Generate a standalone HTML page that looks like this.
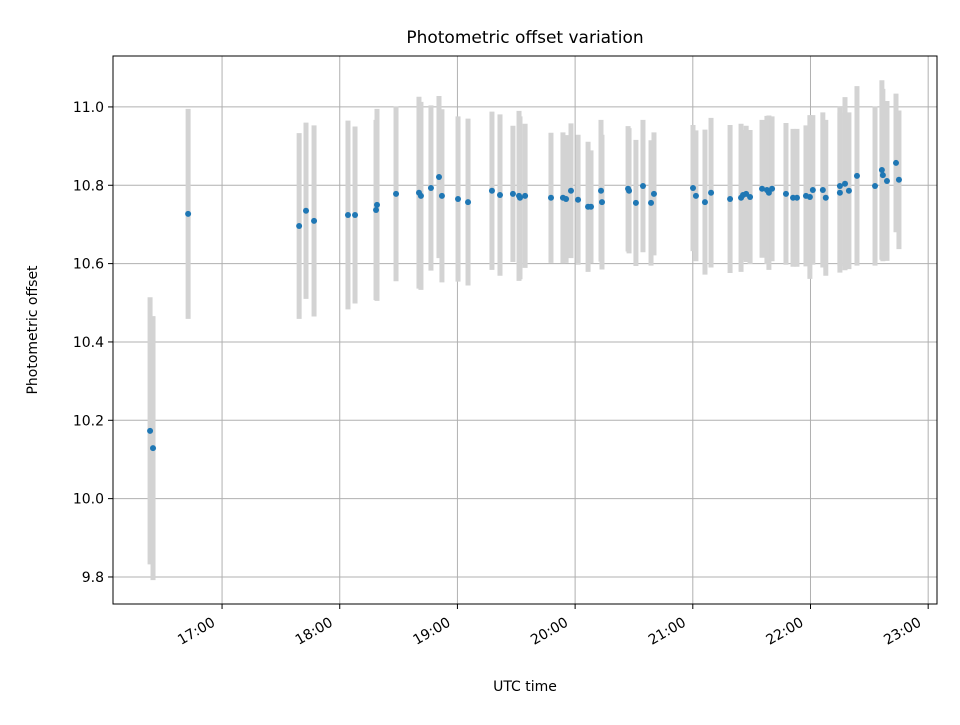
<!DOCTYPE html>
<html><head><meta charset="utf-8"><style>
body{margin:0;background:#fff;font-family:"Liberation Sans","DejaVu Sans",sans-serif}
svg text{font-family:"DejaVu Sans","Liberation Sans",sans-serif;fill:#000}
</style></head><body>
<svg id="chart" width="960" height="720" xmlns="http://www.w3.org/2000/svg"></svg>
<script>
// minutes after 17:00 UTC
const times=[-36.7,-35.2,-17.3,39.3,42.8,46.9,64.2,67.8,78.5,79.0,88.7,100.4,101.4,106.5,110.6,112.1,120.3,125.4,137.6,141.7,148.3,151.4,151.9,154.5,167.7,173.8,175.4,177.9,181.5,186.6,188.1,193.2,193.7,207,207.5,211,214.6,218.7,220.2,240.1,241.6,246.2,249.3,259,264.6,265.6,267.2,269.2,275.3,277.8,278.8,280.4,287.5,291.1,293.1,297.7,299.7,301.2,306.3,307.8,315,315,317.6,319.6,323.7,332.9,336.4,336.9,339,343.6,345.1];
const offsets=[10.173,10.129,10.727,10.696,10.735,10.709,10.724,10.724,10.737,10.750,10.778,10.781,10.773,10.793,10.821,10.773,10.765,10.757,10.786,10.775,10.778,10.773,10.768,10.773,10.768,10.768,10.765,10.786,10.763,10.745,10.745,10.786,10.757,10.791,10.786,10.755,10.798,10.755,10.778,10.793,10.773,10.757,10.781,10.765,10.768,10.775,10.778,10.770,10.791,10.788,10.781,10.791,10.778,10.768,10.768,10.773,10.770,10.788,10.788,10.768,10.781,10.798,10.804,10.786,10.824,10.798,10.839,10.826,10.811,10.857,10.814];
const errors=[0.341,0.337,0.268,0.237,0.225,0.244,0.241,0.226,0.23,0.245,0.223,0.245,0.24,0.211,0.207,0.221,0.211,0.213,0.202,0.206,0.174,0.217,0.208,0.184,0.166,0.167,0.163,0.172,0.166,0.166,0.144,0.181,0.172,0.16,0.16,0.161,0.169,0.16,0.157,0.161,0.167,0.185,0.191,0.189,0.189,0.166,0.174,0.171,0.176,0.189,0.197,0.185,0.181,0.176,0.176,0.18,0.209,0.191,0.198,0.199,0.204,0.204,0.221,0.2,0.229,0.203,0.229,0.22,0.204,0.177,0.177];
const yTicks=[9.8,10.0,10.2,10.4,10.6,10.8,11.0];
const xTickMins=[0,60,120,180,240,300,360];
const xTickLabels=["17:00","18:00","19:00","20:00","21:00","22:00","23:00"];
const L=113,R=937,T=56,B=604,x0=-55.6,x1=364.5,y0=9.731,y1=11.130;
const sx=v=>L+(v-x0)/(x1-x0)*(R-L);
const sy=v=>B-(v-y0)/(y1-y0)*(B-T);
const svg=document.getElementById('chart');const NS='http://www.w3.org/2000/svg';
function mk(t,a,p){const e=document.createElementNS(NS,t);for(const k in a)e.setAttribute(k,a[k]);(p||svg).appendChild(e);return e;}
const grid=mk('g',{});
xTickMins.forEach((m,i)=>{const x=sx(m);
 mk('line',{x1:x,x2:x,y1:T,y2:B,stroke:'#b0b0b0','stroke-width':1},grid);
 mk('line',{x1:x,x2:x,y1:B,y2:B+5,stroke:'#000','stroke-width':1});
 const ax=x-6,ay=B+21;
 const tx=mk('text',{x:ax,y:ay,'font-size':14,'text-anchor':'end',transform:`rotate(-30 ${ax} ${ay})`});
 tx.textContent=xTickLabels[i];
 
 });
yTicks.forEach(v=>{const y=sy(v);
 mk('line',{x1:L,x2:R,y1:y,y2:y,stroke:'#b0b0b0','stroke-width':1},grid);
 mk('line',{x1:L-5,x2:L,y1:y,y2:y,stroke:'#000','stroke-width':1});
 const tx=mk('text',{x:L-9,y:y+5,'font-size':14,'text-anchor':'end'});
 tx.textContent=v.toFixed(1);
 
 });
const eb=mk('g',{});
times.forEach((m,i)=>{const x=sx(m);
 const l=mk('line',{x1:x,x2:x,y1:sy(offsets[i]+errors[i]),y2:sy(offsets[i]-errors[i]),stroke:'#d3d3d3','stroke-width':5},eb);
 });
const pts=mk('g',{});
times.forEach((m,i)=>{const c=mk('circle',{cx:sx(m),cy:sy(offsets[i]),r:3,fill:'#1f77b4'},pts);
 });
const fr=mk('rect',{x:L,y:T,width:R-L,height:B-T,fill:'none',stroke:'#000','stroke-width':1});

const ti=mk('text',{x:(L+R)/2,y:43,'font-size':17,'text-anchor':'middle'});ti.textContent='Photometric offset variation';

const xl=mk('text',{x:(L+R)/2,y:691,'font-size':14,'text-anchor':'middle'});xl.textContent='UTC time';

const yl=mk('text',{x:37,y:(T+B)/2,'font-size':14,'text-anchor':'middle',transform:`rotate(-90 37 ${(T+B)/2})`});yl.textContent='Photometric offset';

</script>
</body></html>
